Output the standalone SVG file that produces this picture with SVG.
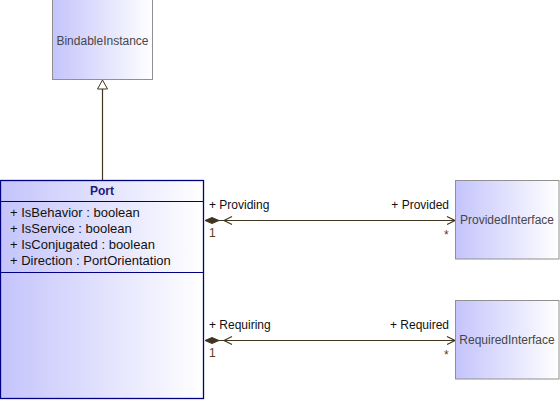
<svg xmlns="http://www.w3.org/2000/svg" width="560" height="400" viewBox="0 0 560 400">
<defs>
<linearGradient id="g" x1="0" y1="0" x2="1" y2="0">
<stop offset="0" stop-color="#c4c4fc"/>
<stop offset="1" stop-color="#ffffff"/>
</linearGradient>
<style>
text{font-family:"Liberation Sans",Arial,sans-serif;font-size:12px}
.cls{fill:url(#g);stroke:#909090;stroke-width:1}
.port{fill:url(#g);stroke:#000080;stroke-width:1.3}
.name{fill:#474747;text-anchor:middle}
.attr{fill:#111;font-size:13px}
.lbl{fill:#111}
.mult{fill:#5a3c10}
.conn{stroke:#40361f;stroke-width:1.2;fill:none}
.dia{fill:#40361f;stroke:#40361f;stroke-width:1}
</style>
</defs>
<g id="connectors">
<line class="conn" x1="102.5" y1="89" x2="102.5" y2="180"/>
<polygon points="102.5,80 97.5,89 107.5,89" fill="#ffffff" stroke="#40361f" stroke-width="1"/>
<line class="conn" x1="219" y1="220.5" x2="455" y2="220.5"/>
<polygon class="dia" points="205,220.5 212,217.5 219,220.5 212,223.5"/>
<polyline class="conn" points="232,216.5 224,220.5 232,224.5"/>
<polyline class="conn" points="447,216.5 455,220.5 447,224.5"/>
<text class="lbl" x="209" y="209">+ Providing</text>
<text class="lbl" x="449" y="209" text-anchor="end">+ Provided</text>
<text class="mult" x="209" y="237">1</text>
<text class="mult" x="444" y="239">*</text>
<line class="conn" x1="219" y1="340.5" x2="455" y2="340.5"/>
<polygon class="dia" points="205,340.5 212,337.5 219,340.5 212,343.5"/>
<polyline class="conn" points="232,336.5 224,340.5 232,344.5"/>
<polyline class="conn" points="447,336.5 455,340.5 447,344.5"/>
<text class="lbl" x="209" y="329">+ Requiring</text>
<text class="lbl" x="449" y="329" text-anchor="end">+ Required</text>
<text class="mult" x="209" y="357">1</text>
<text class="mult" x="444" y="359">*</text>
</g>
<g id="BindableInstance">
<rect class="cls" x="52.5" y="-0.5" width="100" height="80"/>
<text class="name" x="102.5" y="45">BindableInstance</text>
</g>
<g id="Port">
<rect class="port" x="0.5" y="180.5" width="203" height="218"/>
<line x1="0.5" y1="201.5" x2="203.5" y2="201.5" stroke="#000080" stroke-width="1"/>
<line x1="0.5" y1="272.5" x2="203.5" y2="272.5" stroke="#000080" stroke-width="1"/>
<text x="102" y="195" text-anchor="middle" font-weight="bold" fill="#1a1a80">Port</text>
<text class="attr" x="10" y="217">+ IsBehavior : boolean</text>
<text class="attr" x="10" y="233">+ IsService : boolean</text>
<text class="attr" x="10" y="249">+ IsConjugated : boolean</text>
<text class="attr" x="10" y="265">+ Direction : PortOrientation</text>
</g>
<g id="ProvidedInterface">
<rect class="cls" x="455.5" y="180.5" width="103.5" height="78.5"/>
<text class="name" x="507" y="224">ProvidedInterface</text>
</g>
<g id="RequiredInterface">
<rect class="cls" x="455.5" y="300.5" width="103.5" height="78.5"/>
<text class="name" x="507" y="344">RequiredInterface</text>
</g>
</svg>
